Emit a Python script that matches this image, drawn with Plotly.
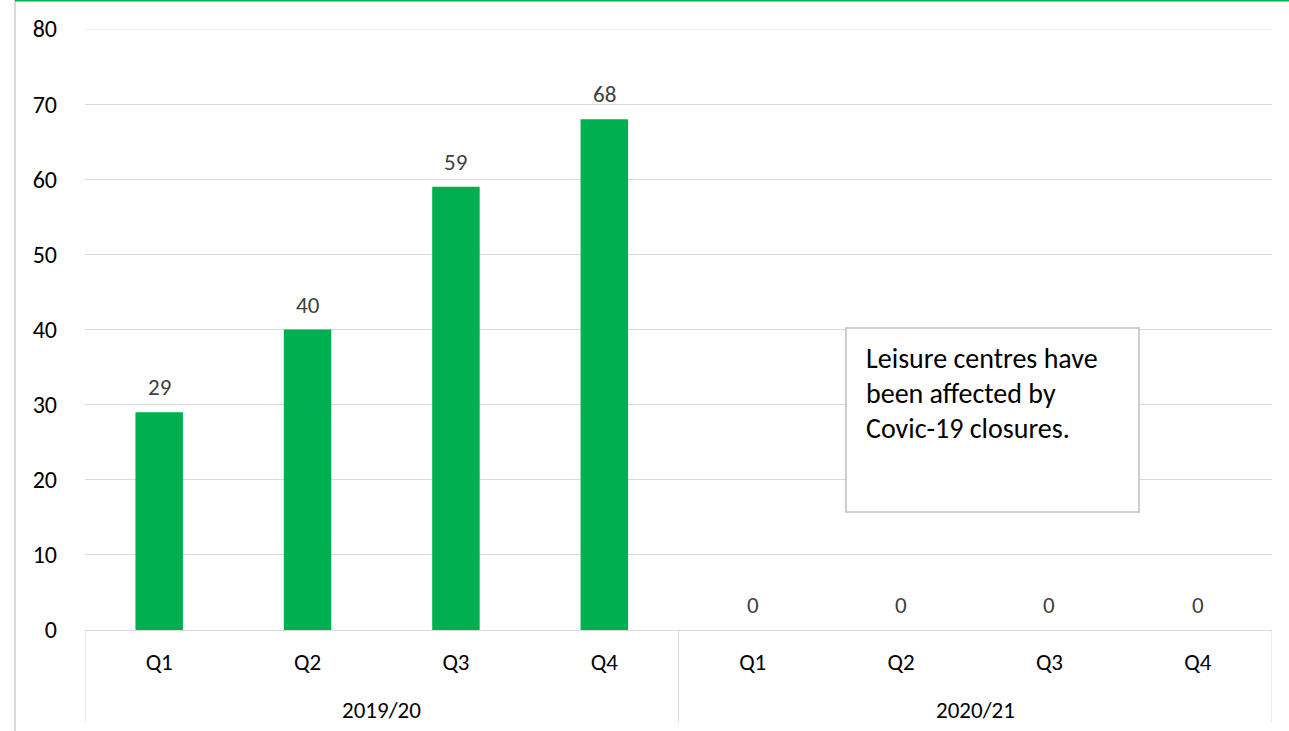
import plotly.graph_objects as go

years = ["2019/20"] * 4 + ["2020/21"] * 4
quarters = ["Q1", "Q2", "Q3", "Q4", "Q1", "Q2", "Q3", "Q4"]
values = [29, 40, 59, 68, 0, 0, 0, 0]
year_labels = ["2019/20", "2020/21"]
y_ticks = [0, 10, 20, 30, 40, 50, 60, 70, 80]
note_lines = ["Leisure centres have", "been affected by", "Covic-19 closures."]

FONT = "Calibri, Carlito, Lato, 'Open Sans', sans-serif"
cats = [f"{y} {q}" for y, q in zip(years, quarters)]

fig = go.Figure()
fig.add_trace(go.Bar(
    x=cats, y=values,
    marker=dict(color="#00B050", line=dict(width=0)),
    width=0.32,
    hoverinfo="x+y",
))

for c, v in zip(cats, values):
    fig.add_annotation(x=c, y=v, xref="x", yref="y", text=str(v),
                       showarrow=False, yanchor="middle", yshift=25,
                       font=dict(size=23, color="#404040", family=FONT))

W, H = 1289, 731
L, R, T, B = 85, 17, 29, 101
pw, ph = W - L - R, H - T - B

fig.update_layout(
    width=W, height=H,
    margin=dict(l=L, r=R, t=T, b=B),
    paper_bgcolor="white", plot_bgcolor="white",
    font=dict(family=FONT, color="#000000"),
    showlegend=False,
    xaxis=dict(
        type="category", categoryorder="array", categoryarray=cats,
        tickvals=cats, ticktext=quarters,
        range=[-0.5, 7.5],
        showline=True, linecolor="#d9d9d9", linewidth=1,
        showgrid=False, ticks="",
        tickfont=dict(size=23, color="#000000"),
        ticklabelstandoff=11,
    ),
    yaxis=dict(
        range=[0, 80], tickvals=y_ticks,
        showgrid=True, gridcolor="#d9d9d9", gridwidth=1,
        zeroline=False, showline=False,
        tickfont=dict(size=24, color="#000000"),
        ticklabelstandoff=27,
    ),
)

# top gridline (plotly omits the one on the plot edge)
fig.add_shape(type="line", xref="paper", yref="y", x0=0, x1=1,
              y0=y_ticks[-1], y1=y_ticks[-1], layer="below",
              line=dict(color="#d9d9d9", width=1))

# group dividers below the axis
for xd in [-0.5, 3.5, 7.5]:
    fig.add_shape(type="line", xref="x", yref="paper",
                  x0=xd, x1=xd, y0=0, y1=-(722 - (H - B)) / ph,
                  line=dict(color="#d9d9d9", width=1))

# group (year) labels
for i, yl in enumerate(year_labels):
    fig.add_annotation(xref="x", yref="paper", x=4 * i + 1.5,
                       y=-(710 - (H - B)) / ph, yanchor="middle",
                       text=yl, showarrow=False,
                       font=dict(size=23, color="#000000", family=FONT))

# outer chart-frame lines
fig.add_shape(type="line", xref="paper", yref="paper",
              x0=(15 - L) / pw, x1=(15 - L) / pw, y0=1 + T / ph, y1=-B / ph,
              line=dict(color="#d9d9d9", width=2))
fig.add_shape(type="line", xref="paper", yref="paper",
              x0=(15 - L) / pw, x1=(W - L) / pw, y0=1 + (T - 0.5) / ph, y1=1 + (T - 0.5) / ph,
              line=dict(color="#00B050", width=2))

# text box
fig.add_shape(type="rect", xref="paper", yref="paper",
              x0=(846 - L) / pw, x1=(1139 - L) / pw,
              y0=(H - B - 512) / ph, y1=(H - B - 328) / ph,
              line=dict(color="#bfbfbf", width=1.5), fillcolor="white", layer="above")
for i, line in enumerate(note_lines):
    fig.add_annotation(xref="paper", yref="paper",
                       x=(864 - L) / pw, y=(H - B - (358 + 35 * i)) / ph,
                       xanchor="left", yanchor="middle", align="left",
                       text=line, showarrow=False,
                       font=dict(size=28, color="#000000", family=FONT))

fig.write_html("out.html", config={"displayModeBar": False},
               post_script="document.body.style.margin='0';")
